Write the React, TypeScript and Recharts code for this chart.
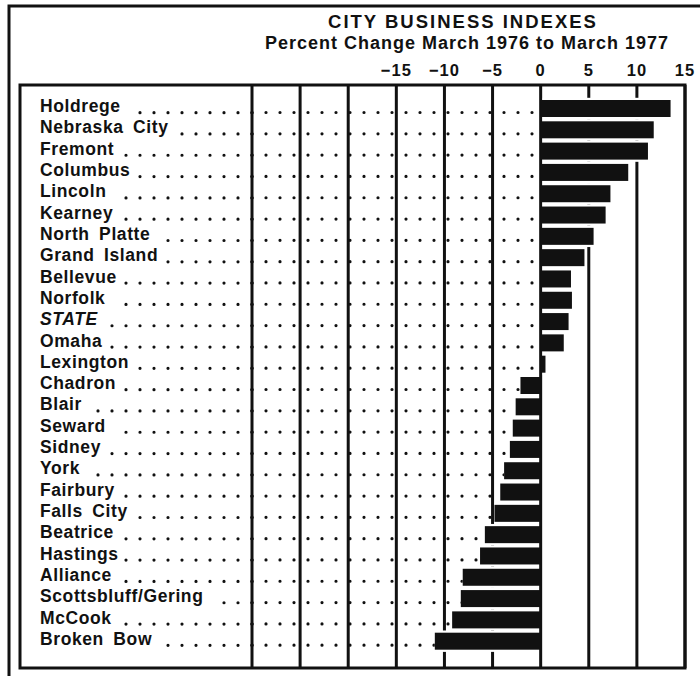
import React, { useLayoutEffect, useRef, useState } from 'react';
import { BarChart, Bar, XAxis, YAxis, CartesianGrid } from 'recharts';

const cities = [
  'Holdrege', 'Nebraska City', 'Fremont', 'Columbus', 'Lincoln', 'Kearney',
  'North Platte', 'Grand Island', 'Bellevue', 'Norfolk', 'STATE', 'Omaha',
  'Lexington', 'Chadron', 'Blair', 'Seward', 'Sidney', 'York', 'Fairbury',
  'Falls City', 'Beatrice', 'Hastings', 'Alliance', 'Scottsbluff/Gering',
  'McCook', 'Broken Bow',
];
const changes = [
  13.5, 11.75, 11.15, 9.1, 7.25, 6.75, 5.5, 4.55, 3.15, 3.25, 2.9, 2.4,
  0.5, -2.1, -2.6, -2.9, -3.2, -3.8, -4.2, -4.8, -5.8, -6.3, -8.1, -8.3,
  -9.2, -11.0,
];
const domain = [-30, 15];
const gridTicks = [-30, -25, -20, -15, -10, -5, 0, 5, 10, 15];
const tickLabels = [-15, -10, -5, 0, 5, 10, 15];
const italicLabels = ['STATE'];

const data = cities.map((city, i) => ({ city, change: changes[i] }));

const INK = '#111';
const FONT = '"Liberation Sans", Arial, Helvetica, sans-serif';
const DOT_GAP = 14;
const DOT_SIZE = 3.2;
const AXIS_W = 232;

function CityTick({ x, y, payload }: any) {
  const italic = italicLabels.includes(payload.value);
  const textX = x - AXIS_W + 20;
  const ref = useRef<SVGTextElement>(null);
  const [textW, setTextW] = useState(0);
  useLayoutEffect(() => {
    if (ref.current) setTextW(ref.current.getComputedTextLength());
  }, [payload.value]);
  // leader dots run from the axis back towards the end of the label
  const leaderEnd = textX + textW + 7;
  return (
    <g>
      {textW > 0 && (
        <line
          x1={x} y1={y + 4} x2={leaderEnd} y2={y + 4}
          stroke={INK} strokeWidth={DOT_SIZE} strokeLinecap="round"
          strokeDasharray={`0 ${DOT_GAP}`}
        />
      )}
      <text
        ref={ref}
        x={textX} y={y + 3.5}
        fill={INK}
        fontFamily={FONT} fontSize={17.5} fontWeight="bold"
        fontStyle={italic ? 'italic' : 'normal'}
        letterSpacing={0.6} wordSpacing={4}
      >
        {payload.value}
      </text>
    </g>
  );
}

function ChangeTick({ x, y, payload }: any) {
  if (!tickLabels.includes(payload.value)) return <g />;
  const v = payload.value;
  const label = v < 0 ? `\u2212${-v}` : `${v}`;
  return (
    <text
      x={x} y={y - 9.5} textAnchor="middle" fill={INK}
      fontFamily={FONT} fontSize={16.5} fontWeight="bold" letterSpacing={1}
    >
      {label}
    </text>
  );
}

// dotted leader row behind each bar, from the left edge to the zero line
function DotRow({ x, y, width, height }: any) {
  const zeroX = x + (width * (0 - domain[0])) / (domain[1] - domain[0]);
  const cy = y + height / 2 + 4;
  return (
    <line
      x1={x} y1={cy} x2={zeroX} y2={cy}
      stroke={INK} strokeWidth={DOT_SIZE} strokeLinecap="round"
      strokeDasharray={`0 ${DOT_GAP}`}
    />
  );
}

function InkBar(props: any) {
  const { x, y, width, height, payload } = props;
  const left = Math.min(x, x + width);
  const w = Math.abs(width);
  const neg = payload.change < 0;
  return (
    <g>
      <rect x={neg ? left : left + 2} y={y - 2.2} width={Math.max(w - 2, 0)} height={height + 4.4} fill="#fff" />
      <rect x={left} y={y} width={w} height={height} fill={INK} />
    </g>
  );
}

export default function App() {
  return (
    <div style={{ position: 'absolute', left: 0, top: 0, width: 700, height: 676, background: '#fff' }}>
      <BarChart
        width={700}
        height={676}
        data={data}
        layout="vertical"
        margin={{ top: 55, right: 15, bottom: 8, left: 20 }}
      >
        <CartesianGrid horizontal={false} stroke={INK} strokeWidth={3} />
        <XAxis
          type="number"
          orientation="top"
          domain={domain}
          ticks={gridTicks}
          interval={0}
          height={30}
          axisLine={false}
          tickLine={false}
          tickSize={0}
          tickMargin={0}
          tick={<ChangeTick />}
        />
        <YAxis
          type="category"
          dataKey="city"
          width={AXIS_W}
          interval={0}
          axisLine={false}
          tickLine={false}
          tickSize={0}
          tickMargin={0}
          padding={{ top: 13, bottom: 16 }}
          tick={<CityTick />}
        />
        <Bar
          dataKey="change"
          barSize={17}
          isAnimationActive={false}
          background={(p: any) => <DotRow key={`dots-${p.index}`} {...p} />}
          shape={(p: any) => <InkBar key={`bar-${p.index}`} {...p} />}
        />
      </BarChart>
      <svg
        width={700}
        height={676}
        style={{ position: 'absolute', left: 0, top: 0, pointerEvents: 'none' }}
      >
        <path d="M9 676 V6 H700" fill="none" stroke={INK} strokeWidth={3} />
        <rect x={20} y={85} width={665} height={583} fill="none" stroke={INK} strokeWidth={3} />
        <text x={463} y={28} textAnchor="middle" fill={INK} fontFamily={FONT} fontSize={18.5} fontWeight="bold" letterSpacing={2}>
          CITY BUSINESS INDEXES
        </text>
        <text x={467} y={48.5} textAnchor="middle" fill={INK} fontFamily={FONT} fontSize={18} fontWeight="bold" letterSpacing={1}>
          Percent Change March 1976 to March 1977
        </text>
      </svg>
    </div>
  );
}
